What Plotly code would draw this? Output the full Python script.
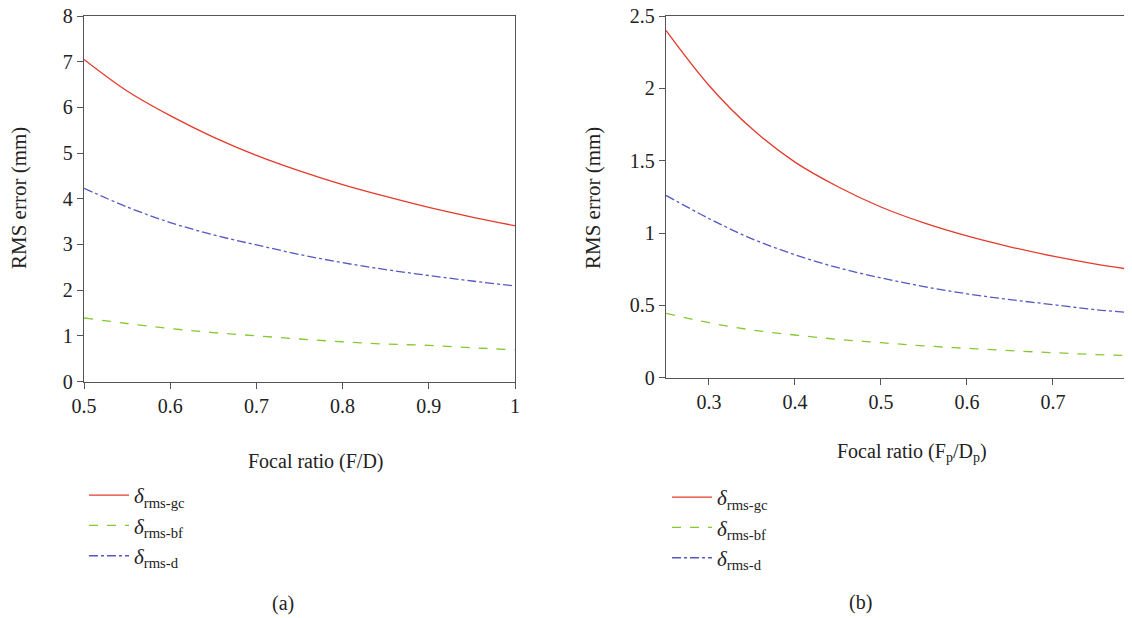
import plotly.graph_objects as go

# ---- data ----
x_a = [0.5, 0.55, 0.6, 0.65, 0.7, 0.75, 0.8, 0.85, 0.9, 0.95, 1.0]
gc_a = [7.05, 6.36, 5.82, 5.35, 4.95, 4.61, 4.31, 4.05, 3.81, 3.60, 3.41]
bf_a = [1.39, 1.27, 1.16, 1.07, 1.00, 0.93, 0.87, 0.82, 0.79, 0.74, 0.69]
d_a = [4.23, 3.82, 3.48, 3.21, 2.99, 2.78, 2.60, 2.45, 2.32, 2.20, 2.09]

x_b = [0.25, 0.3, 0.35, 0.4, 0.45, 0.5, 0.55, 0.6, 0.65, 0.7, 0.75, 0.8]
gc_b = [2.40, 2.02, 1.72, 1.49, 1.32, 1.18, 1.07, 0.98, 0.905, 0.84, 0.785, 0.74]
bf_b = [0.445, 0.38, 0.33, 0.295, 0.265, 0.242, 0.22, 0.203, 0.187, 0.173, 0.16, 0.15]
d_b = [1.26, 1.10, 0.96, 0.85, 0.76, 0.69, 0.63, 0.58, 0.54, 0.505, 0.47, 0.445]

names = ["<i>δ</i><sub>rms-gc</sub>", "<i>δ</i><sub>rms-bf</sub>", "<i>δ</i><sub>rms-d</sub>"]
colors = ["#e53a2c", "#86c832", "#5458c0"]
dashes = ["solid", "dash", "dashdot"]

# page body has an 8px margin: figure occupies window pixels 8..1132 x 8..618
OFF = 8
W, H = 1132 - OFF, 618 - OFF
FONT = "Liberation Serif, serif"


def px(p):
    return (p - OFF) / W


def py(p):
    return (H - (p - OFF)) / H


fig = go.Figure()
for ys, nm, c, d in zip([gc_a, bf_a, d_a], names, colors, dashes):
    fig.add_trace(go.Scatter(x=x_a, y=ys, mode="lines", name=nm, line=dict(color=c, width=1.3, dash=d, shape="spline"),
                             xaxis="x", yaxis="y", legend="legend"))
for ys, nm, c, d in zip([gc_b, bf_b, d_b], names, colors, dashes):
    fig.add_trace(go.Scatter(x=x_b, y=ys, mode="lines", name=nm, line=dict(color=c, width=1.3, dash=d, shape="spline"),
                             xaxis="x2", yaxis="y2", legend="legend2"))

axcommon = dict(showline=True, linecolor="#555", linewidth=1.3, ticks="outside", ticklen=6, tickcolor="#555",
                showgrid=False, zeroline=False, automargin=False, ticklabeloverflow="allow",
                tickfont=dict(family=FONT, size=20, color="#222"))

fig.update_layout(
    width=W, height=H,
    margin=dict(l=0, r=0, t=0, b=0),
    paper_bgcolor="white", plot_bgcolor="white",
    font=dict(family=FONT, size=20, color="#222"),
    xaxis=dict(domain=[px(84), px(515)], range=[0.5, 1.0], tickvals=[0.5, 0.6, 0.7, 0.8, 0.9, 1.0],
               ticktext=["0.5", "0.6", "0.7", "0.8", "0.9", "1"], mirror=True, anchor="y", **axcommon),
    yaxis=dict(domain=[py(381.5), py(16)], range=[0, 8], dtick=1, mirror=True, anchor="x", **axcommon),
    xaxis2=dict(domain=[px(666), 1.0], range=[0.25, 0.792], tickvals=[0.3, 0.4, 0.5, 0.6, 0.7],
                mirror=True, anchor="y2", **axcommon),
    yaxis2=dict(domain=[py(377.7), py(16)], range=[0, 2.5], tickvals=[0, 0.5, 1, 1.5, 2, 2.5],
                ticktext=["0", "0.5", "1", "1.5", "2", "2.5"], mirror=False, anchor="x2", **axcommon),
    legend=dict(x=px(84), y=py(475), xanchor="left", yanchor="top", bgcolor="rgba(0,0,0,0)",
                font=dict(family=FONT, size=21, color="#222"), tracegroupgap=2, itemwidth=40),
    legend2=dict(x=px(667), y=py(477), xanchor="left", yanchor="top", bgcolor="rgba(0,0,0,0)",
                 font=dict(family=FONT, size=21, color="#222"), tracegroupgap=2, itemwidth=40),
    showlegend=True,
)

ann = [
    dict(text="RMS error (mm)", x=px(19), y=py(198), textangle=-90, size=21),
    dict(text="RMS error (mm)", x=px(593), y=py(198), textangle=-90, size=21),
    dict(text="Focal ratio (F/D)", x=px(316), y=py(461), size=20),
    dict(text="Focal ratio (F<sub>p</sub>/D<sub>p</sub>)", x=px(912), y=py(452), size=20),
    dict(text="(a)", x=px(283), y=py(603), size=20),
    dict(text="(b)", x=px(860), y=py(602), size=20),
]
for a in ann:
    sz = a.pop("size")
    fig.add_annotation(xref="paper", yref="paper", showarrow=False, xanchor="center", yanchor="middle",
                       font=dict(family=FONT, size=sz, color="#222"), **a)

fig.write_html("out.html")
